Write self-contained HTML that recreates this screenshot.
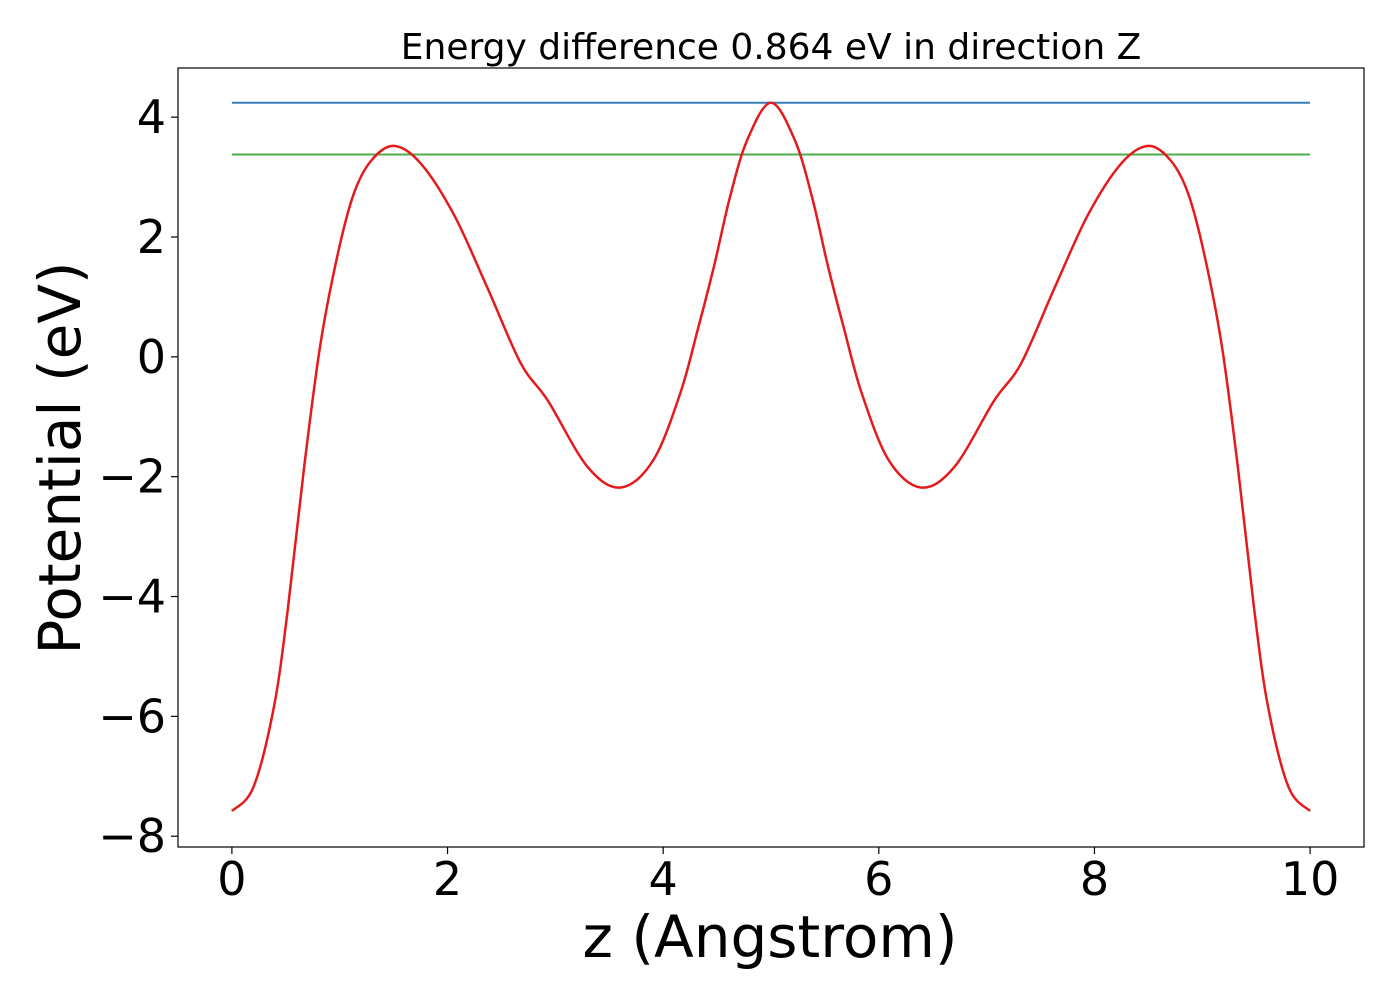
<!DOCTYPE html>
<html><head><meta charset="utf-8"><style>
html,body{margin:0;padding:0;background:#fff;}
svg text{font-family:"DejaVu Sans","Liberation Sans",sans-serif;fill:#000;}
</style></head><body>
<svg id="chart" width="1400" height="1000" viewBox="0 0 1400 1000" xmlns="http://www.w3.org/2000/svg">
<rect x="0" y="0" width="1400" height="1000" fill="#fff"/>
<text x="771" y="59" font-size="36" text-anchor="middle">Energy difference 0.864 eV in direction Z</text>
<g id="plot"></g>
<rect x="178" y="68" width="1186" height="779" fill="none" stroke="#000" stroke-width="1.2"/>
<g id="xticks"></g>
<g id="yticks"></g>
<text x="770" y="957" font-size="58" text-anchor="middle">z (Angstrom)</text>
<text transform="translate(80,458) rotate(-90)" font-size="58" text-anchor="middle">Potential (eV)</text>
</svg>
<script>
const zValues = [0,0.2,0.39,0.52,0.67,0.82,0.98,1.13,1.29,1.5,1.75,2.06,2.37,2.68,2.93,3.3,3.61,3.91,4.16,4.32,4.47,4.62,4.78,5.0,5.22,5.38,5.53,5.68,5.84,6.09,6.39,6.7,7.07,7.32,7.63,7.94,8.25,8.5,8.71,8.87,9.02,9.18,9.33,9.48,9.61,9.8,10.0];
const potential = [-7.58,-7.18,-5.84,-4.19,-1.84,0.2,1.7,2.72,3.27,3.52,3.23,2.37,1.15,-0.11,-0.73,-1.84,-2.18,-1.72,-0.6,0.45,1.5,2.67,3.62,4.24,3.62,2.67,1.5,0.45,-0.6,-1.72,-2.18,-1.84,-0.73,-0.11,1.15,2.37,3.23,3.52,3.27,2.72,1.7,0.2,-1.84,-4.19,-5.84,-7.18,-7.58];
const maxLevel = [4.24];
const avgLevel = [3.376];
const xTicks = [0,2,4,6,8,10];
const yTicks = [4,2,0,-2,-4,-6,-8];
const yTickLabels = ["4","2","0","\u22122","\u22124","\u22126","\u22128"];

const X0=178,X1=1364,Y0=68,Y1=847, xmin=-0.5,xmax=10.5,ymin=-8.18,ymax=4.82;
const sx=v=>X0+(v-xmin)/(xmax-xmin)*(X1-X0);
const sy=v=>Y1-(v-ymin)/(ymax-ymin)*(Y1-Y0);
const NS="http://www.w3.org/2000/svg";
const plot=document.getElementById('plot');
function hline(val,color,name){
  const l=document.createElementNS(NS,'line');
  l.setAttribute('x1',sx(0));l.setAttribute('x2',sx(10));
  l.setAttribute('y1',sy(val));l.setAttribute('y2',sy(val));
  l.setAttribute('stroke',color);l.setAttribute('stroke-width','2');
  
  
  plot.appendChild(l);
}
hline(maxLevel[0],'#377eb8','max-level-line');
hline(avgLevel[0],'#4daf4a','average-level-line');
const pts=zValues.map((z,i)=>[sx(z),sy(potential[i])]);
let d='M'+pts[0][0]+','+pts[0][1];
for(let i=0;i<pts.length-1;i++){
  const p0=pts[Math.max(0,i-1)],p1=pts[i],p2=pts[i+1],p3=pts[Math.min(pts.length-1,i+2)];
  const c1=[p1[0]+(p2[0]-p0[0])/6,p1[1]+(p2[1]-p0[1])/6];
  const c2=[p2[0]-(p3[0]-p1[0])/6,p2[1]-(p3[1]-p1[1])/6];
  d+=' C'+c1[0]+','+c1[1]+' '+c2[0]+','+c2[1]+' '+p2[0]+','+p2[1];
}
const path=document.createElementNS(NS,'path');
path.setAttribute('d',d);path.setAttribute('fill','none');
path.setAttribute('stroke','#e41a1c');path.setAttribute('stroke-width','2.5');


plot.appendChild(path);

const xg=document.getElementById('xticks');
xTicks.forEach(v=>{
  const t=document.createElementNS(NS,'line');
  t.setAttribute('x1',sx(v));t.setAttribute('x2',sx(v));t.setAttribute('y1',Y1);t.setAttribute('y2',Y1+7);
  t.setAttribute('stroke','#000');t.setAttribute('stroke-width','1.2');
  
  
  xg.appendChild(t);
  const s=document.createElementNS(NS,'text');
  s.setAttribute('x',sx(v));s.setAttribute('y',895);s.setAttribute('font-size','46');s.setAttribute('text-anchor','middle');
  s.textContent=String(v);
  
  
  xg.appendChild(s);
});
const yg=document.getElementById('yticks');
yTicks.forEach((v,i)=>{
  const t=document.createElementNS(NS,'line');
  t.setAttribute('x1',X0-7);t.setAttribute('x2',X0);t.setAttribute('y1',sy(v));t.setAttribute('y2',sy(v));
  t.setAttribute('stroke','#000');t.setAttribute('stroke-width','1.2');
  
  
  yg.appendChild(t);
  const s=document.createElementNS(NS,'text');
  s.setAttribute('x',166);s.setAttribute('y',sy(v)+16);s.setAttribute('font-size','46');s.setAttribute('text-anchor','end');
  s.textContent=yTickLabels[i];
  
  
  yg.appendChild(s);
});
</script>
</body></html>
